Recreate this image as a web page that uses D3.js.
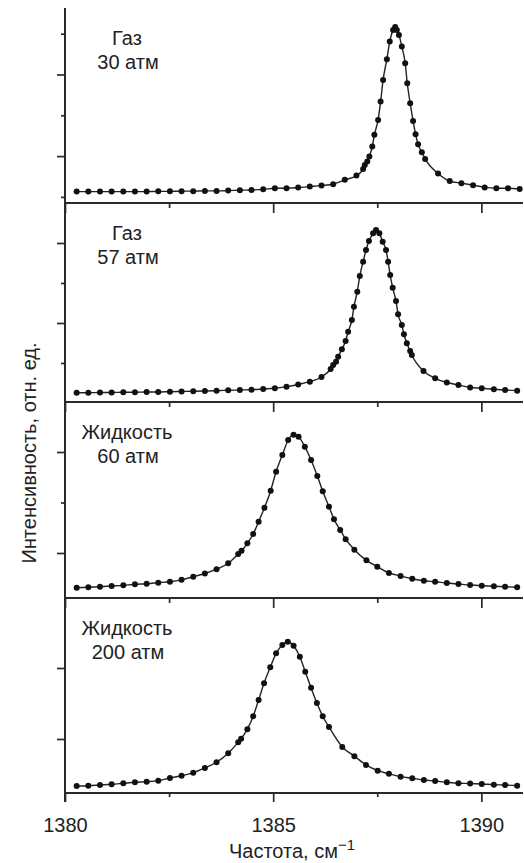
<!DOCTYPE html>
<html>
<head>
<meta charset="utf-8">
<script src="https://cdn.jsdelivr.net/npm/d3@7"></script>
<style>
  body { margin: 0; background: #fff; }
  svg text { font-family: "Liberation Sans", Arial, sans-serif; fill: #222; }
</style>
</head>
<body>
<svg id="chart" width="524" height="863"></svg>
<script>
// --- data ---
var labels = [["Газ", "30 атм"], ["Газ", "57 атм"], ["Жидкость", "60 атм"], ["Жидкость", "200 атм"]];

var p1X = [1380.28,1380.56,1380.84,1381.12,1381.40,1381.68,1381.96,1382.24,1382.52,1382.80,1383.08,1383.36,1383.64,1383.92,1384.20,1384.48,1384.76,1385.04,1385.32,1385.60,1385.88,1386.16,1386.44,1386.72,1387.00,
  1387.16,1387.20,1387.26,1387.31,1387.38,1387.43,1387.52,1387.58,1387.64,1387.73,1387.80,1387.88,1387.93,1387.97,1388.02,1388.09,1388.17,1388.22,1388.29,1388.36,1388.42,1388.48,1388.57,1388.65,
  1388.96,1389.24,1389.52,1389.80,1390.08,1390.36,1390.64,1390.92];
var p1Y = [0.13,0.13,0.13,0.13,0.13,0.13,0.13,0.135,0.135,0.14,0.14,0.147,0.147,0.154,0.164,0.17,0.184,0.213,0.213,0.228,0.252,0.277,0.311,0.417,0.522,
  0.686,0.784,0.865,0.988,1.233,1.520,1.887,2.336,2.868,3.375,3.806,4.093,4.167,4.093,3.971,3.684,3.277,2.787,2.297,1.863,1.537,1.292,1.096,0.931,
  0.571,0.387,0.336,0.287,0.233,0.213,0.213,0.196];

var p2X = [1380.28,1380.56,1380.84,1381.12,1381.40,1381.68,1381.96,1382.24,1382.52,1382.80,1383.08,1383.36,1383.64,1383.92,1384.20,1384.48,1384.76,1385.04,1385.32,1385.60,1385.88,1386.16,
  1386.38,1386.44,1386.51,1386.56,1386.65,1386.74,1386.80,1386.89,1386.94,1387.02,1387.08,1387.16,1387.23,1387.30,1387.40,1387.47,1387.55,1387.63,1387.71,1387.76,1387.81,1387.87,1387.95,1388.00,1388.09,1388.14,1388.21,1388.29,1388.33,
  1388.61,1388.89,1389.17,1389.45,1389.73,1390.01,1390.30,1390.57,1390.86];
var p2Y = [0.258,0.258,0.263,0.263,0.268,0.268,0.275,0.275,0.283,0.288,0.293,0.30,0.308,0.318,0.325,0.333,0.35,0.368,0.408,0.463,0.533,0.65,
  0.85,0.95,1.033,1.158,1.343,1.55,1.783,2.075,2.408,2.783,3.175,3.533,3.825,4.05,4.243,4.325,4.243,4.033,3.825,3.533,3.2,2.883,2.55,2.218,1.95,1.718,1.493,1.30,1.20,
  0.80,0.618,0.513,0.45,0.388,0.368,0.343,0.325,0.308];

var p3X = [1380.28,1380.56,1380.84,1381.12,1381.40,1381.68,1381.96,1382.24,1382.52,1382.80,1383.08,1383.36,1383.64,1383.92,
  1384.16,1384.24,1384.38,1384.52,1384.65,1384.79,1384.94,1385.07,1385.22,1385.36,1385.49,1385.61,1385.76,1385.91,1386.06,1386.19,1386.34,1386.46,1386.61,1386.74,1386.95,
  1387.24,1387.50,1387.78,1388.06,1388.34,1388.62,1388.89,1389.17,1389.45,1389.73,1390.01,1390.30,1390.57,1390.86];
var p3Y = [0.313,0.321,0.333,0.347,0.360,0.380,0.392,0.412,0.432,0.469,0.531,0.594,0.679,0.796,
  0.980,1.044,1.192,1.376,1.620,1.895,2.234,2.610,2.941,3.238,3.343,3.303,3.105,2.842,2.525,2.224,1.917,1.669,1.455,1.273,1.065,
  0.855,0.729,0.606,0.545,0.489,0.450,0.432,0.406,0.386,0.366,0.352,0.341,0.333,0.321];

var p4X = [1380.28,1380.56,1380.84,1381.12,1381.40,1381.68,1381.96,1382.24,1382.52,1382.80,1383.08,1383.36,1383.64,1383.92,
  1384.16,1384.23,1384.38,1384.52,1384.65,1384.78,1384.93,1385.07,1385.22,1385.35,1385.49,1385.64,1385.77,1385.91,1386.05,1386.19,1386.34,1386.66,1386.95,
  1387.23,1387.51,1387.78,1388.06,1388.34,1388.62,1388.89,1389.17,1389.45,1389.73,1390.01,1390.30,1390.57,1390.86];
var p4Y = [0.338,0.342,0.352,0.362,0.376,0.390,0.399,0.413,0.451,0.482,0.525,0.592,0.672,0.799,
  0.955,1.003,1.138,1.320,1.549,1.785,2.010,2.207,2.324,2.370,2.313,2.159,1.948,1.721,1.507,1.320,1.169,0.887,0.758,
  0.634,0.554,0.510,0.469,0.446,0.423,0.408,0.390,0.376,0.373,0.366,0.356,0.352,0.342];

// y domain of each panel and its tick values (arbitrary units)
var yDomains = [[-0.15, 4.63], [0.025, 5.0], [0.109, 3.99], [0.239, 2.986]];
var yMajor = [[1, 3], [2, 4], [1, 3], [1, 2]];
var yMinor = [[0, 2, 4], [1, 3], [2], []];
var xMajor = [1380, 1385, 1390];
var xMinor = [1382.5, 1387.5];

var series = [[p1X, p1Y], [p2X, p2Y], [p3X, p3Y], [p4X, p4Y]];

// --- layout ---
var svg = d3.select("#chart");
var left = 65, right = 523;
var edges = [8, 203, 402, 598, 793];   // panel top/bottom lines
var ink = "#2a2a2a";

var x = d3.scaleLinear().domain([1380, 1391]).range([left, right]);

function styleTicks(a) {
  a.select(".domain").remove();
  a.selectAll("line").attr("stroke", ink).attr("stroke-width", 1.7);
}

series.forEach(function(s, i) {
  var top = edges[i], bottom = edges[i + 1];
  var y = d3.scaleLinear().domain(yDomains[i]).range([bottom, top]);
  var g = svg.append("g");

  // left ticks
  g.append("g").attr("transform", "translate(" + left + ",0)")
    .call(d3.axisLeft(y).tickValues(yMajor[i]).tickSize(8).tickFormat(""))
    .call(styleTicks);
  g.append("g").attr("transform", "translate(" + left + ",0)")
    .call(d3.axisLeft(y).tickValues(yMinor[i]).tickSize(4).tickFormat(""))
    .call(styleTicks);

  // inward ticks hanging from the panel's top line
  if (i > 0) {
    g.append("g").attr("transform", "translate(0," + top + ")")
      .call(d3.axisBottom(x).tickValues(xMajor).tickSize(10).tickFormat(""))
      .call(styleTicks);
    g.append("g").attr("transform", "translate(0," + top + ")")
      .call(d3.axisBottom(x).tickValues(xMinor).tickSize(5).tickFormat(""))
      .call(styleTicks);
  }

  // bottom line of panel
  g.append("line").attr("x1", left).attr("x2", right).attr("y1", bottom).attr("y2", bottom)
    .attr("stroke", ink).attr("stroke-width", 2);

  var pts = s[0].map(function(v, k) { return [v, s[1][k]]; });

  g.append("path").datum(pts)
    .attr("fill", "none").attr("stroke", "#222").attr("stroke-width", 1.4)
    .attr("d", d3.line().x(function(d) { return x(d[0]); }).y(function(d) { return y(d[1]); })
      .curve(d3.curveMonotoneX));

  g.selectAll("circle").data(pts).enter().append("circle")
    .attr("cx", function(d) { return x(d[0]); })
    .attr("cy", function(d) { return y(d[1]); })
    .attr("r", 3).attr("fill", "#111");

  var lab = g.append("text").attr("text-anchor", "middle").style("font-size", "20px");
  lab.append("tspan").attr("x", 127).attr("y", top + 37).text(labels[i][0]);
  lab.append("tspan").attr("x", 128).attr("y", top + 61).text(labels[i][1]);
});

// left axis line
svg.append("line").attr("x1", left).attr("x2", left).attr("y1", edges[0]).attr("y2", 802)
  .attr("stroke", ink).attr("stroke-width", 2);

// bottom axis ticks and labels
var bottomY = edges[4];
svg.append("g").attr("transform", "translate(0," + bottomY + ")")
  .call(d3.axisBottom(x).tickValues(xMajor).tickSize(9).tickPadding(16).tickFormat(d3.format("d")))
  .call(function(a) {
    styleTicks(a);
    a.selectAll("text").style("font-size", "20px").attr("fill", "#222")
      .style("font-family", "Liberation Sans, Arial, sans-serif");
  });
svg.append("g").attr("transform", "translate(0," + bottomY + ")")
  .call(d3.axisBottom(x).tickValues(xMinor).tickSize(4).tickFormat(""))
  .call(styleTicks);

// axis titles
var xt = svg.append("text").attr("x", 292).attr("y", 858).attr("text-anchor", "middle").style("font-size", "20px");
xt.append("tspan").text("Частота, см");
xt.append("tspan").attr("dy", -8).style("font-size", "15px").text("−1");

svg.append("text").attr("transform", "translate(36,453) rotate(-90)")
  .attr("text-anchor", "middle").style("font-size", "20px")
  .text("Интенсивность, отн. ед.");
</script>
</body>
</html>
